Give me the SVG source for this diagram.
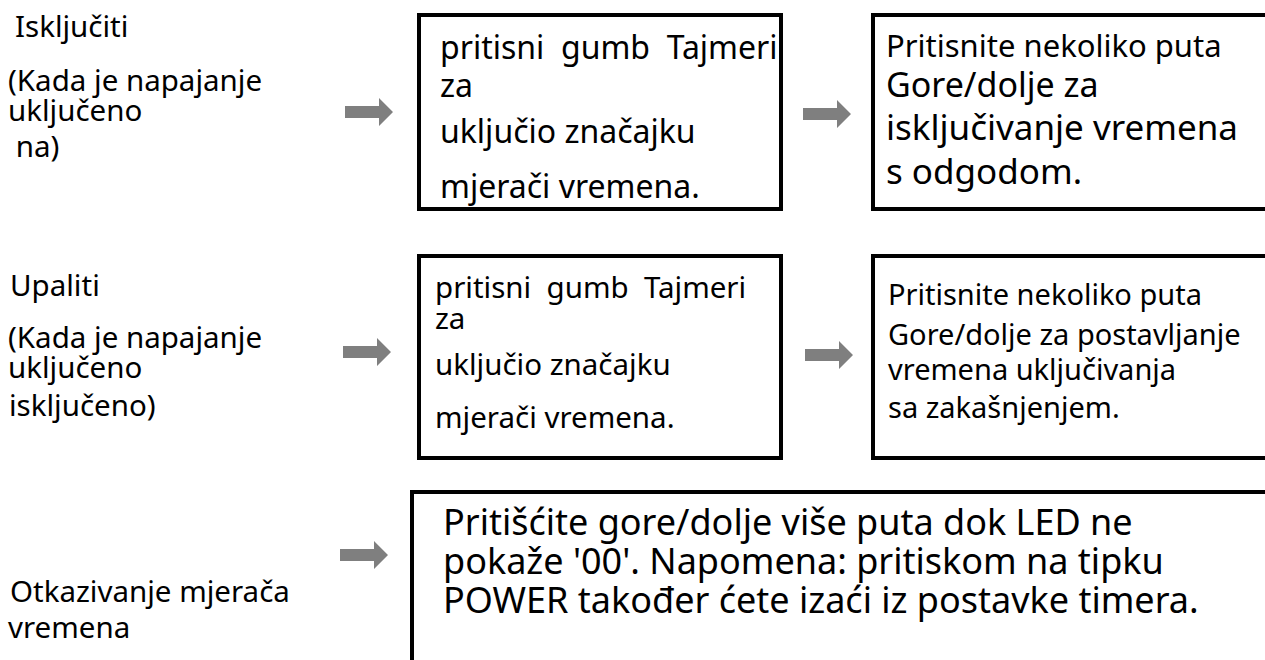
<svg xmlns="http://www.w3.org/2000/svg" width="1265" height="660" viewBox="0 0 1265 660">
<style>
text{font-family:"Noto Sans","Open Sans","DejaVu Sans",sans-serif;fill:#000}
.lbl{font-size:29.5px}
.box{fill:#fff;stroke:#000;stroke-width:4}
.arr{fill:#7f7f7f}
</style>
<defs>
<path id="arrow" d="M0,-6 H34 V-14 L48,0 L34,14 V6 H0 Z"/>
</defs>
<rect width="1265" height="660" fill="#fff"/>
<g id="label-off">
<text class="lbl" x="15" y="37">Isključiti</text>
<text class="lbl" x="8" y="91">(Kada je napajanje</text>
<text class="lbl" x="8" y="121">uključeno</text>
<text class="lbl" x="8" y="157" xml:space="preserve"> na)</text>
</g>
<g id="box-off-1">
<rect class="box" x="419" y="15" width="362" height="194"/>
<text x="440" y="59" font-size="32" xml:space="preserve">pritisni  gumb  Tajmeri</text>
<text x="440" y="97" font-size="32">za</text>
<text x="440" y="143" font-size="32">uključio značajku</text>
<text x="440" y="198" font-size="32">mjerači vremena.</text>
</g>
<g id="box-off-2">
<rect class="box" x="873" y="15" width="420" height="194"/>
<text x="886" y="57" font-size="31">Pritisnite nekoliko puta</text>
<text x="886" y="97" font-size="34">Gore/dolje za</text>
<text x="886" y="140" font-size="35">isključivanje vremena</text>
<text x="886" y="184" font-size="35">s odgodom.</text>
</g>
<g id="label-on">
<text class="lbl" x="10" y="296">Upaliti</text>
<text class="lbl" x="8" y="348">(Kada je napajanje</text>
<text class="lbl" x="8" y="378">uključeno</text>
<text class="lbl" x="9" y="416">isključeno)</text>
</g>
<g id="box-on-1">
<rect class="box" x="419" y="256" width="362" height="202"/>
<text x="435" y="298" font-size="29.5" xml:space="preserve">pritisni  gumb  Tajmeri</text>
<text x="435" y="329" font-size="29.5">za</text>
<text x="435" y="375" font-size="29.5">uključio značajku</text>
<text x="435" y="428" font-size="29.5">mjerači vremena.</text>
</g>
<g id="box-on-2">
<rect class="box" x="873" y="256" width="420" height="202"/>
<text x="888" y="305" font-size="29">Pritisnite nekoliko puta</text>
<text x="888" y="345" font-size="29">Gore/dolje za postavljanje</text>
<text x="888" y="380" font-size="29">vremena uključivanja</text>
<text x="888" y="418" font-size="29">sa zakašnjenjem.</text>
</g>
<g id="label-cancel">
<text class="lbl" x="10" y="602">Otkazivanje mjerača</text>
<text class="lbl" x="8" y="638">vremena</text>
</g>
<g id="box-cancel">
<rect class="box" x="412" y="492" width="900" height="200"/>
<text x="443" y="535" font-size="36">Pritišćite gore/dolje više puta dok LED ne</text>
<text x="443" y="574" font-size="36">pokaže '00'. Napomena: pritiskom na tipku</text>
<text x="443" y="613" font-size="36">POWER također ćete izaći iz postavke timera.</text>
</g>
<g id="connectors" class="arr">
<use href="#arrow" x="345" y="112"/>
<use href="#arrow" x="803" y="114"/>
<use href="#arrow" x="343" y="352"/>
<use href="#arrow" x="805" y="355"/>
<use href="#arrow" x="340" y="555"/>
</g>
</svg>
